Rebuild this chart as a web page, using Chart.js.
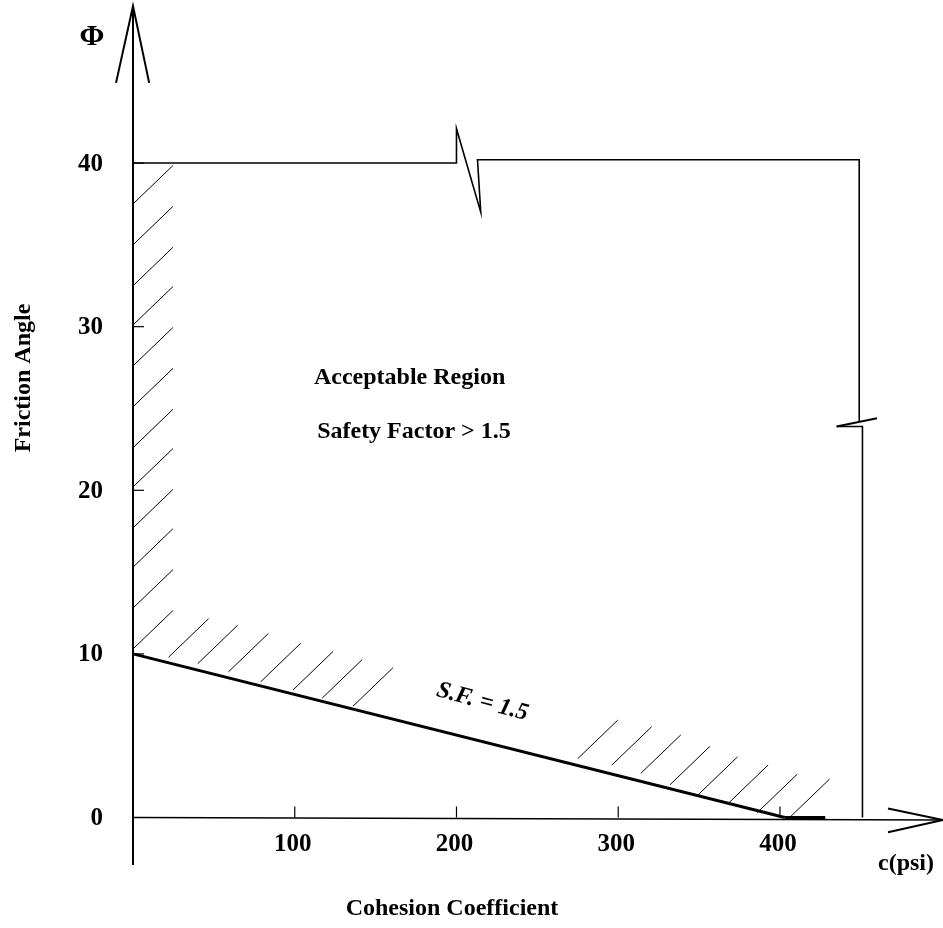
<!DOCTYPE html>
<html lang="en">

<head>
    <meta charset="UTF-8">
    <title>Friction Angle vs Cohesion Coefficient</title>
    <script src="https://cdn.jsdelivr.net/npm/chart.js"></script>
    <style>
        body { margin: 0; background: #fff; }
    </style>
</head>

<body>
    <canvas id="sfChart" width="943" height="928"></canvas>

    <script>
        // ticks
        const xTicks = [100, 200, 300, 400];
        const yTicks = [0, 10, 20, 30, 40];

        // S.F. = 1.5 line (c, phi)
        const sfLineC = [0, 403];
        const sfLinePhi = [10, 0];

        // boundary of the acceptable region, with break marks
        const boxC = [0, 200, 200, 215, 213, 449, 449];
        const boxPhi = [40, 40, 42.1, 37.0, 40.2, 40.2, 24.2];
        const breakC = [435, 460];
        const breakPhi = [23.9, 24.4];
        const boxLowC = [435, 451, 451];
        const boxLowPhi = [23.9, 23.9, 0];

        // hatch start points
        const leftHatchPhi = [37.5, 35.0, 32.5, 30.1, 27.6, 25.1, 22.6, 20.2, 17.7, 15.3, 12.8, 10.3];
        const lineHatchC = [22, 40, 59, 79, 99, 117, 136, 275, 296, 314, 332, 349, 368, 386, 406];
        const lineHatchPhi = [9.8, 9.4, 8.9, 8.3, 7.8, 7.3, 6.8, 3.6, 3.2, 2.7, 2.0, 1.35, 0.86, 0.3, 0.0];
        const hatchDc = 24.7, hatchDphi = 2.35;

        const xMax = 500.8, yMax = 49.6;

        function seg(xs, ys, width) {
            return {
                data: xs.map((x, i) => ({ x: x, y: ys[i] })),
                showLine: true,
                borderColor: '#000',
                borderWidth: width,
                pointRadius: 0,
                clip: false
            };
        }

        const datasets = [];
        // axes + arrows
        datasets.push(seg([0, 0], [-2.9, yMax], 2));
        datasets.push(seg([-10.5, 0, 10], [44.9, yMax, 44.9], 2));
        datasets.push(seg([0, xMax], [0, -0.15], 1.5));
        datasets.push(seg([466.8, xMax, 466.8], [0.55, -0.15, -0.9], 2));
        // region
        datasets.push(seg(boxC, boxPhi, 1.6));
        datasets.push(seg(breakC, breakPhi, 2));
        datasets.push(seg(boxLowC, boxLowPhi, 1.6));
        datasets.push(seg(sfLineC, sfLinePhi, 3));
        datasets.push(seg([403, 428], [0, 0], 3));
        // hatching
        leftHatchPhi.forEach(p => datasets.push(seg([0, hatchDc], [p, p + hatchDphi], 1)));
        lineHatchC.forEach((c, i) => datasets.push(seg([c, c + hatchDc], [lineHatchPhi[i], lineHatchPhi[i] + hatchDphi], 1)));

        const FONT = '"Liberation Serif", "Times New Roman", serif';

        const textPlugin = {
            id: 'texts',
            afterDatasetsDraw(chart) {
                const ctx = chart.ctx;
                const xs = chart.scales.x, ys = chart.scales.y;
                ctx.save();
                ctx.strokeStyle = '#000';
                ctx.fillStyle = '#000';
                ctx.lineWidth = 1.2;
                // tick marks
                yTicks.slice(1).forEach(v => {
                    const py = ys.getPixelForValue(v);
                    ctx.beginPath();
                    ctx.moveTo(xs.getPixelForValue(0), py);
                    ctx.lineTo(xs.getPixelForValue(0) + 11, py);
                    ctx.stroke();
                });
                xTicks.forEach(v => {
                    const px = xs.getPixelForValue(v);
                    ctx.beginPath();
                    ctx.moveTo(px, ys.getPixelForValue(0));
                    ctx.lineTo(px, ys.getPixelForValue(0) - 11);
                    ctx.stroke();
                });

                // tick labels
                ctx.font = 'bold 25px ' + FONT;
                ctx.textAlign = 'right';
                ctx.textBaseline = 'middle';
                yTicks.forEach(v => ctx.fillText(String(v), 103, ys.getPixelForValue(v) + 1));
                ctx.textAlign = 'center';
                xTicks.forEach(v => ctx.fillText(String(v), xs.getPixelForValue(v) - 2, 845));

                // annotations
                ctx.font = 'bold 24px ' + FONT;
                ctx.fillText('Acceptable Region', xs.getPixelForValue(171), ys.getPixelForValue(26.9));
                ctx.fillText('Safety Factor > 1.5', xs.getPixelForValue(173.7), ys.getPixelForValue(23.6));
                ctx.fillText('c(psi)', 906, 864);
                ctx.fillText('Cohesion Coefficient', 452, 909);

                ctx.save();
                ctx.translate(xs.getPixelForValue(216), ys.getPixelForValue(7.06));
                ctx.rotate(15 * Math.PI / 180);
                ctx.font = 'italic bold 24px ' + FONT;
                ctx.fillText('S.F. = 1.5', 0, 0);
                ctx.restore();

                ctx.save();
                ctx.translate(24, 378);
                ctx.rotate(-Math.PI / 2);
                ctx.font = 'bold 24px ' + FONT;
                ctx.fillText('Friction Angle', 0, 0);
                ctx.restore();

                ctx.font = 'bold 30px ' + FONT;
                ctx.fillText('\u03A6', 92, 37);
                ctx.restore();
            }
        };

        const ctx = document.getElementById('sfChart').getContext('2d');
        const chart = new Chart(ctx, {
            type: 'scatter',
            data: { datasets: datasets },
            options: {
                responsive: false,
                animation: false,
                layout: { padding: { left: 133, right: 0, top: 6, bottom: 110.5 } },
                plugins: { legend: { display: false }, tooltip: { enabled: false } },
                scales: {
                    x: { type: 'linear', min: 0, max: xMax, display: false },
                    y: { type: 'linear', min: 0, max: yMax, display: false }
                }
            },
            plugins: [textPlugin]
        });
    </script>
</body>

</html>
